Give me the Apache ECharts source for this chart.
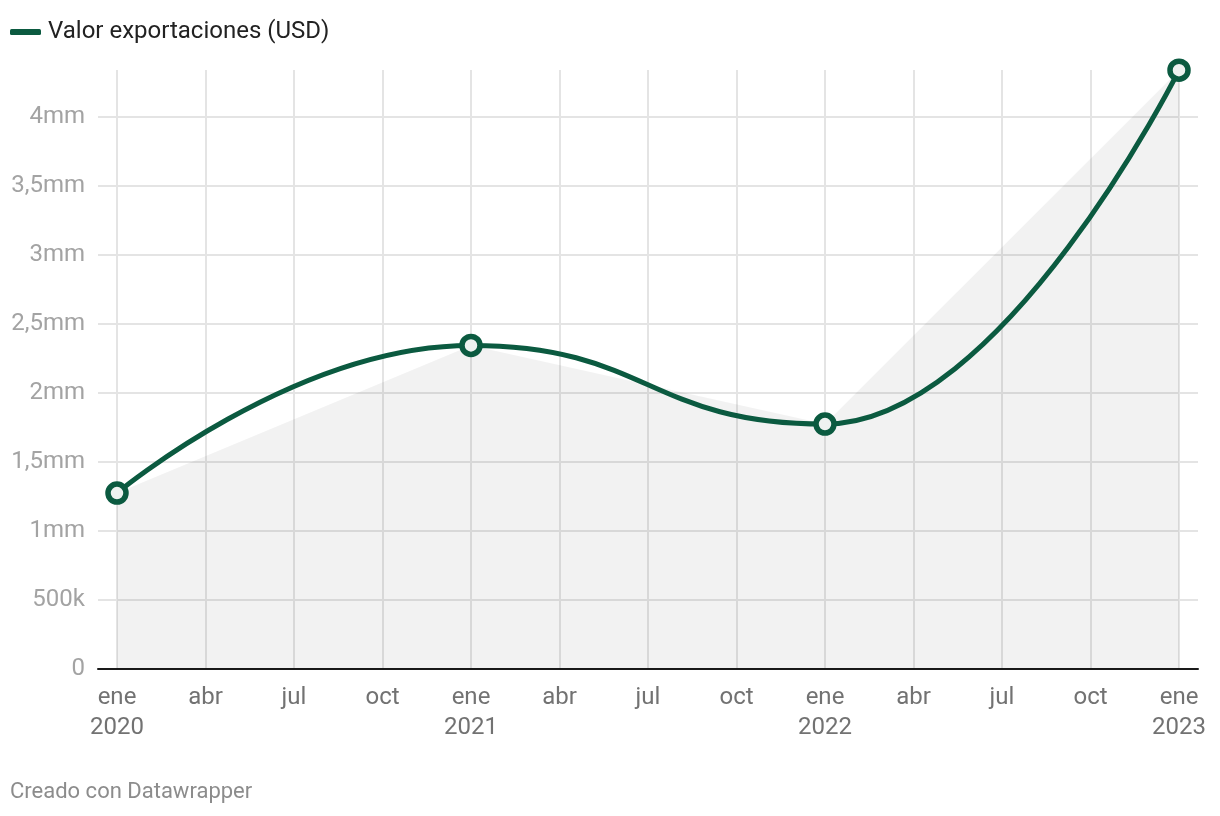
<!DOCTYPE html>
<html>
<head>
<meta charset="utf-8">
<script src="https://cdn.jsdelivr.net/npm/echarts@6/dist/echarts.min.js"></script>
<style>
html,body{margin:0;padding:0;background:#fff;}
#c{width:1220px;height:816px;}
</style>
</head>
<body>
<div id="c"></div>
<script>
// Data
const seriesName = 'Valor exportaciones (USD)';
const categories = ['ene 2020', 'ene 2021', 'ene 2022', 'ene 2023'];
const monthIndex = [0, 12, 24, 36];            // months since ene 2020
const values = [1275000, 2345000, 1775000, 4340000];
const xTickMonths = [0, 3, 6, 9, 12, 15, 18, 21, 24, 27, 30, 33, 36];
const xTickLabels = ['ene\n2020', 'abr', 'jul', 'oct', 'ene\n2021', 'abr', 'jul', 'oct', 'ene\n2022', 'abr', 'jul', 'oct', 'ene\n2023'];
const yTickValues = [0, 500000, 1000000, 1500000, 2000000, 2500000, 3000000, 3500000, 4000000];
const yTickLabels = ['0', '500k', '1mm', '1,5mm', '2mm', '2,5mm', '3mm', '3,5mm', '4mm'];
const footer = 'Creado con Datawrapper';

const points = monthIndex.map((m, i) => [m, values[i]]);
const FONT = 'Roboto, "Noto Sans", sans-serif';
const GREEN = '#0b5a40';

const chart = echarts.init(document.getElementById('c'), null, {renderer: 'canvas'});
chart.setOption({
  animation: false,
  backgroundColor: '#ffffff',
  textStyle: {fontFamily: FONT},
  title: {
    text: footer,
    left: 5, top: 776,
    textStyle: {fontFamily: FONT, fontSize: 22, fontWeight: 'normal', color: '#8c8c8c'}
  },
  legend: {
    data: [{name: seriesName, itemStyle: {color: GREEN, borderWidth: 0}}],
    left: 5, top: 15,
    icon: 'roundRect',
    itemWidth: 31, itemHeight: 6,
    itemGap: 8,
    textStyle: {fontFamily: FONT, fontSize: 24, color: '#222222', padding: [0, 0, 0, 2]}
  },
  grid: {left: 98, right: 22, top: 70, bottom: 147, containLabel: false},
  xAxis: {
    type: 'value',
    min: -0.644, max: 36.644,
    axisLine: {show: true, onZero: false, lineStyle: {color: '#1a1a1a', width: 2}},
    axisTick: {show: false, customValues: xTickMonths},
    axisLabel: {
      customValues: xTickMonths,
      formatter: v => { const i = xTickMonths.indexOf(Math.round(v)); return i >= 0 ? xTickLabels[i] : ''; },
      color: '#727272', fontFamily: FONT, fontSize: 24, lineHeight: 30, margin: 14
    },
    splitLine: {show: true, lineStyle: {color: '#e4e4e4', width: 2}}
  },
  yAxis: {
    type: 'value',
    min: 0, max: 4341000,
    axisLine: {show: false},
    axisTick: {show: false, customValues: yTickValues},
    axisLabel: {
      customValues: yTickValues,
      formatter: v => { const i = yTickValues.indexOf(v); return i >= 0 ? yTickLabels[i] : ''; },
      color: '#a3a3a3', fontFamily: FONT, fontSize: 24, margin: 13
    },
    splitLine: {show: true, lineStyle: {color: '#e4e4e4', width: 2}}
  },
  series: [
    {
      name: 'area',
      type: 'line',
      data: points,
      smooth: false,
      symbol: 'none',
      lineStyle: {width: 0, opacity: 0},
      areaStyle: {color: 'rgba(0,0,0,0.074)', origin: 'start'},
      silent: true,
      z: 1
    },
    {
      name: seriesName,
      type: 'line',
      data: points,
      smooth: 0.5,
      smoothMonotone: 'x',
      symbol: 'circle',
      symbolSize: 18,
      showAllSymbol: true,
      itemStyle: {color: '#eef2f0', borderColor: GREEN, borderWidth: 5.5},
      lineStyle: {color: GREEN, width: 5},
      z: 3
    }
  ]
});
</script>
</body>
</html>
